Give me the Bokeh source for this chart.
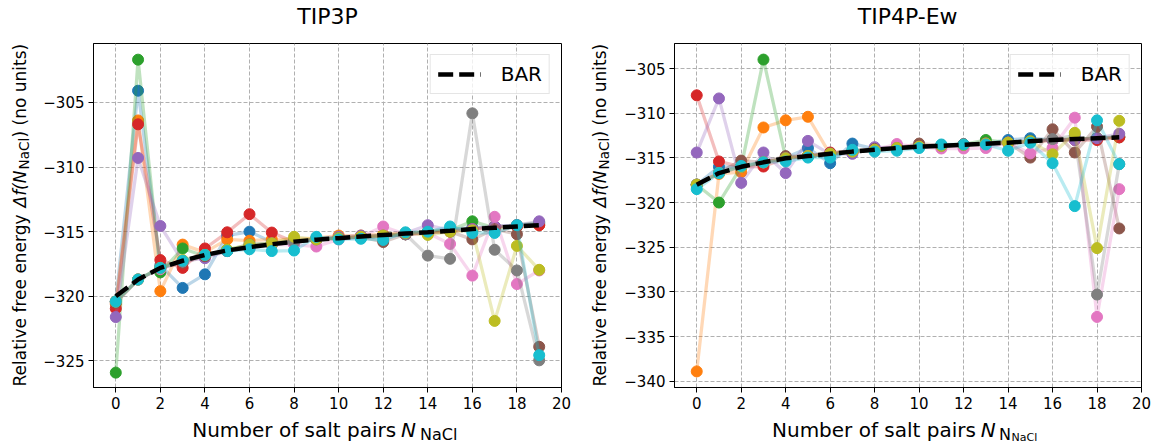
from bokeh.plotting import figure
from bokeh.layouts import row, column
from bokeh.models import FixedTicker
from bokeh.core.properties import value
from bokeh.embed import file_html
from bokeh.resources import INLINE
import math

# ---------------- data ----------------
n_pairs = list(range(20))
x_ticks = list(range(0, 21, 2))
y_ticks_tip3p = [-325, -320, -315, -310, -305]
y_ticks_tip4p = [-340, -335, -330, -325, -320, -315, -310, -305]

tab10 = ["#1f77b4", "#ff7f0e", "#2ca02c", "#d62728", "#9467bd",
         "#8c564b", "#e377c2", "#7f7f7f", "#bcbd22", "#17becf"]

# TIP3P panel
tip3p_s0 = [-320.4, -304.1, -317.6, -319.35, -318.3, -315.3, -315.0, -315.8, -315.9, -315.5, -315.5, -315.5, -315.4, -315.2, -315.0, -314.8, -314.7, -314.6, -314.5, -314.4]
tip3p_s1 = [-320.6, -306.4, -319.6, -316.0, -316.6, -315.6, -315.7, -315.6, -315.6, -315.5, -315.3, -315.3, -315.2, -315.1, -315.0, -314.9, -314.8, -314.7, -314.6, -314.5]
tip3p_s2 = [-325.9, -301.7, -318.15, -316.3, -316.9, -316.4, -316.0, -315.9, -315.7, -315.6, -315.5, -315.4, -315.3, -315.2, -315.0, -314.9, -314.2, -314.7, -314.5, -314.3]
tip3p_s3 = [-320.95, -306.7, -317.2, -317.8, -316.3, -315.05, -313.65, -315.07, -315.8, -315.6, -315.5, -315.4, -315.3, -315.2, -315.1, -315.0, -314.8, -314.6, -314.6, -314.5]
tip3p_s4 = [-321.6, -309.3, -314.56, -317.3, -317.05, -316.5, -316.0, -315.9, -315.8, -315.6, -315.4, -315.3, -315.3, -315.1, -314.5, -314.9, -314.8, -314.6, -314.5, -314.2]
tip3p_s5 = [-320.5, -318.7, -317.8, -317.4, -316.9, -316.5, -316.2, -316.0, -315.8, -315.6, -315.5, -315.4, -315.8, -315.2, -315.1, -315.0, -315.6, -314.8, -315.2, -323.9]
tip3p_s6 = [-320.4, -318.7, -317.9, -317.3, -316.8, -316.5, -316.3, -316.0, -316.0, -316.15, -315.6, -315.4, -314.6, -315.2, -315.1, -315.95, -318.4, -313.85, -319.05, -318.0]
tip3p_s7 = [-320.4, -318.7, -317.8, -317.3, -316.8, -316.5, -316.2, -316.0, -315.8, -315.6, -315.5, -315.4, -315.3, -315.2, -316.85, -317.1, -305.85, -316.4, -318.0, -324.95]
tip3p_s8 = [-320.4, -318.7, -317.8, -317.2, -316.8, -316.4, -316.0, -315.9, -315.4, -315.6, -315.5, -315.4, -315.3, -315.1, -315.25, -315.0, -314.9, -321.9, -316.1, -317.95]
tip3p_s9 = [-320.4, -318.7, -317.8, -317.25, -316.8, -316.5, -316.36, -316.5, -316.46, -315.4, -315.6, -315.55, -315.64, -315.05, -315.0, -314.6, -315.1, -315.1, -314.5, -324.55]
tip3p_bar = [-320.0, -318.7, -317.8, -317.25, -316.8, -316.45, -316.2, -315.97, -315.77, -315.62, -315.5, -315.37, -315.25, -315.15, -315.05, -314.93, -314.8, -314.7, -314.6, -314.5]

# TIP4P-Ew panel
tip4p_s0 = [-318.0, -316.0, -316.0, -315.5, -315.0, -313.9, -315.6, -313.4, -314.0, -313.9, -313.8, -313.6, -313.5, -313.4, -313.0, -312.8, -313.0, -312.9, -312.8, -312.7]
tip4p_s1 = [-338.9, -316.8, -316.6, -311.6, -310.8, -310.4, -314.6, -314.3, -314.1, -313.9, -313.8, -313.6, -313.5, -313.4, -313.3, -313.2, -313.0, -312.9, -312.8, -312.7]
tip4p_s2 = [-318.0, -320.0, -316.0, -304.0, -315.0, -314.8, -314.6, -314.3, -314.1, -313.9, -313.8, -313.6, -313.5, -313.0, -313.3, -313.1, -313.0, -312.9, -312.8, -312.6]
tip4p_s3 = [-308.0, -315.4, -316.0, -315.97, -315.0, -314.8, -314.4, -314.3, -314.1, -313.9, -313.8, -313.6, -313.5, -313.4, -313.3, -313.2, -313.0, -313.0, -313.0, -312.7]
tip4p_s4 = [-314.4, -308.35, -317.8, -314.4, -316.7, -313.1, -314.6, -314.55, -313.8, -313.9, -313.8, -313.6, -313.5, -313.4, -313.3, -313.2, -313.0, -313.0, -312.8, -312.3]
tip4p_s5 = [-318.0, -316.7, -315.3, -315.5, -314.8, -314.8, -314.5, -314.2, -314.0, -313.9, -313.4, -313.6, -313.5, -313.4, -313.3, -314.97, -311.8, -314.4, -311.5, -322.9]
tip4p_s6 = [-318.0, -316.7, -316.0, -315.5, -315.05, -314.8, -314.55, -314.3, -314.1, -313.45, -313.8, -313.95, -313.95, -313.9, -313.3, -314.5, -313.9, -310.5, -332.8, -318.5]
tip4p_s7 = [-318.0, -316.7, -316.0, -315.5, -315.05, -314.8, -314.55, -314.3, -314.1, -313.9, -313.75, -313.65, -313.55, -313.4, -313.3, -313.15, -312.9, -312.5, -330.3, -315.7]
tip4p_s8 = [-318.0, -316.7, -316.0, -315.5, -315.05, -314.8, -314.55, -314.3, -314.1, -313.9, -313.75, -313.65, -313.55, -313.4, -313.3, -313.15, -314.6, -312.2, -325.1, -310.85]
tip4p_s9 = [-318.5, -316.7, -315.9, -315.5, -315.4, -314.97, -314.97, -314.1, -314.3, -314.2, -313.9, -313.5, -313.5, -313.5, -314.2, -313.3, -315.6, -320.4, -310.8, -315.7]
tip4p_bar = [-318.0, -316.7, -316.0, -315.5, -315.05, -314.8, -314.55, -314.3, -314.1, -313.9, -313.75, -313.65, -313.55, -313.42, -313.3, -313.15, -313.0, -312.9, -312.8, -312.7]

tip3p_series = [tip3p_s0, tip3p_s1, tip3p_s2, tip3p_s3, tip3p_s4, tip3p_s5, tip3p_s6, tip3p_s7, tip3p_s8, tip3p_s9]
tip4p_series = [tip4p_s0, tip4p_s1, tip4p_s2, tip4p_s3, tip4p_s4, tip4p_s5, tip4p_s6, tip4p_s7, tip4p_s8, tip4p_s9]

FONT = "DejaVu Sans"
TOP_H = 40      # title strip
BT, FH, BB = 3, 344, 27
MAIN_H = BT + FH + BB   # plot figure height
XLAB_H = 30     # x label strip
YLAB_W = 36     # y label strip
K = 0.36        # measured shift of the rendered baseline, in em


def text_fig(w, h, bt=0, bb=0):
    f = figure(width=w, height=h, x_range=(0, w), y_range=(0, h - bt - bb), title=None,
               output_backend="svg", toolbar_location=None, min_border=0,
               min_border_top=bt, min_border_bottom=bb,
               x_axis_type=None, y_axis_type=None)
    f.outline_line_color = None
    f.background_fill_color = "white"
    f.border_fill_color = "white"
    return f


def put(f, x, y, txt, size, style="normal", rotated=False, align="left"):
    # (x, y): wanted start of the alphabetic baseline
    if rotated:
        x = x - K * size
        ang = math.pi / 2
    else:
        y = y + K * size
        ang = 0.0
    f.text(x=[x], y=[y], text=[txt], angle=ang, text_color="black",
           text_font=value(FONT), text_font_size=value(f"{size}px"),
           text_font_style=value(style), text_align=value(align),
           text_baseline=value("alphabetic"))


def make_panel(series, bar, y_range, y_ticks, W, bl, br):
    p = figure(width=W, height=MAIN_H, x_range=(-1, 20), y_range=y_range, title=None,
               output_backend="svg", toolbar_location=None,
               min_border_left=bl, min_border_right=br, min_border_top=BT, min_border_bottom=BB)
    p.background_fill_color = "white"
    p.border_fill_color = "white"
    p.outline_line_color = "black"
    p.outline_line_width = 1
    p.xaxis.ticker = FixedTicker(ticks=x_ticks)
    p.yaxis.ticker = FixedTicker(ticks=y_ticks)
    p.yaxis.major_label_overrides = {t: "\u2212" + str(abs(t)) for t in y_ticks}
    for ax in (p.xaxis, p.yaxis):
        ax.axis_line_color = "black"
        ax.axis_line_width = 1
        ax.major_tick_line_color = "black"
        ax.major_tick_out = 5
        ax.major_tick_in = 0
        ax.minor_tick_line_color = None
        ax.major_label_text_font = FONT
        ax.major_label_text_font_size = "15px"
        ax.major_label_text_color = "black"
        ax.major_label_standoff = 4
    p.grid.grid_line_color = "#b0b0b0"
    p.grid.grid_line_dash = "4 2"
    p.grid.grid_line_width = 1

    for vals, col in zip(series, tab10):
        p.line(n_pairs, vals, line_color=col, line_alpha=0.3, line_width=3.3)
        p.scatter(n_pairs, vals, size=11, fill_color=col, line_color=col)
    p.line(n_pairs, bar, line_color="black", line_width=4.5, line_dash="15 6", legend_label="BAR")

    lg = p.legend[0]
    lg.location = "top_right"
    lg.margin = 11
    lg.padding = 7
    lg.glyph_width = 43
    lg.glyph_height = 18
    lg.label_height = 18
    lg.label_standoff = 20
    lg.label_text_font = FONT
    lg.label_text_font_size = "20px"
    lg.label_text_color = "black"
    lg.border_line_color = "#cccccc"
    lg.border_line_width = 1
    lg.background_fill_alpha = 0.8
    return p


def ylabel_fig(xb):
    # frame of this strip is aligned with the plot frame (y = 0 at its bottom)
    f = text_fig(YLAB_W, MAIN_H, bt=BT, bb=BB)
    put(f, xb, 1.0, "Relative free energy ", 17, rotated=True)
    put(f, xb, 180.0, "\u0394f(N", 17, style="italic", rotated=True)
    put(f, xb + 3, 218.0, "NaCl", 13.6, rotated=True)
    put(f, xb, 250.0, ") (no units)", 17, rotated=True)
    return f


# ---------------- left panel (TIP3P) ----------------
LW = 577
p1 = make_panel(tip3p_series, tip3p_bar, (-327.05, -300.45), y_ticks_tip3p, LW - YLAB_W, 57, 16)
t1 = text_fig(LW, TOP_H)
put(t1, 327, 16, "TIP3P", 22, align="center")
y1 = ylabel_fig(25.7)
x1 = text_fig(LW, XLAB_H)
put(x1, 191.7, 7.5, "Number of salt pairs ", 20)
put(x1, 400.5, 7.5, "N", 20, style="italic")
put(x1, 419.5, 4.0, "NaCl", 16)
left = column(t1, row(y1, p1), x1)

# ---------------- right panel (TIP4P-Ew) ----------------
RW = 576
p2 = make_panel(tip4p_series, tip4p_bar, (-340.7, -302.2), y_ticks_tip4p, RW - YLAB_W, 61, 12)
t2 = text_fig(RW, TOP_H)
put(t2, 330.2, 16, "TIP4P-Ew", 22, align="center")
y2 = ylabel_fig(28.7)
x2 = text_fig(RW, XLAB_H)
put(x2, 194.5, 7.5, "Number of salt pairs ", 20)
put(x2, 403.3, 7.5, "N", 20, style="italic")
put(x2, 421.5, 4.0, "N", 16)
put(x2, 434.0, 2.8, "NaCl", 11)
right = column(t2, row(y2, p2), x2)

layout = row(left, right)
open("out.html", "w").write(file_html(layout, INLINE))
